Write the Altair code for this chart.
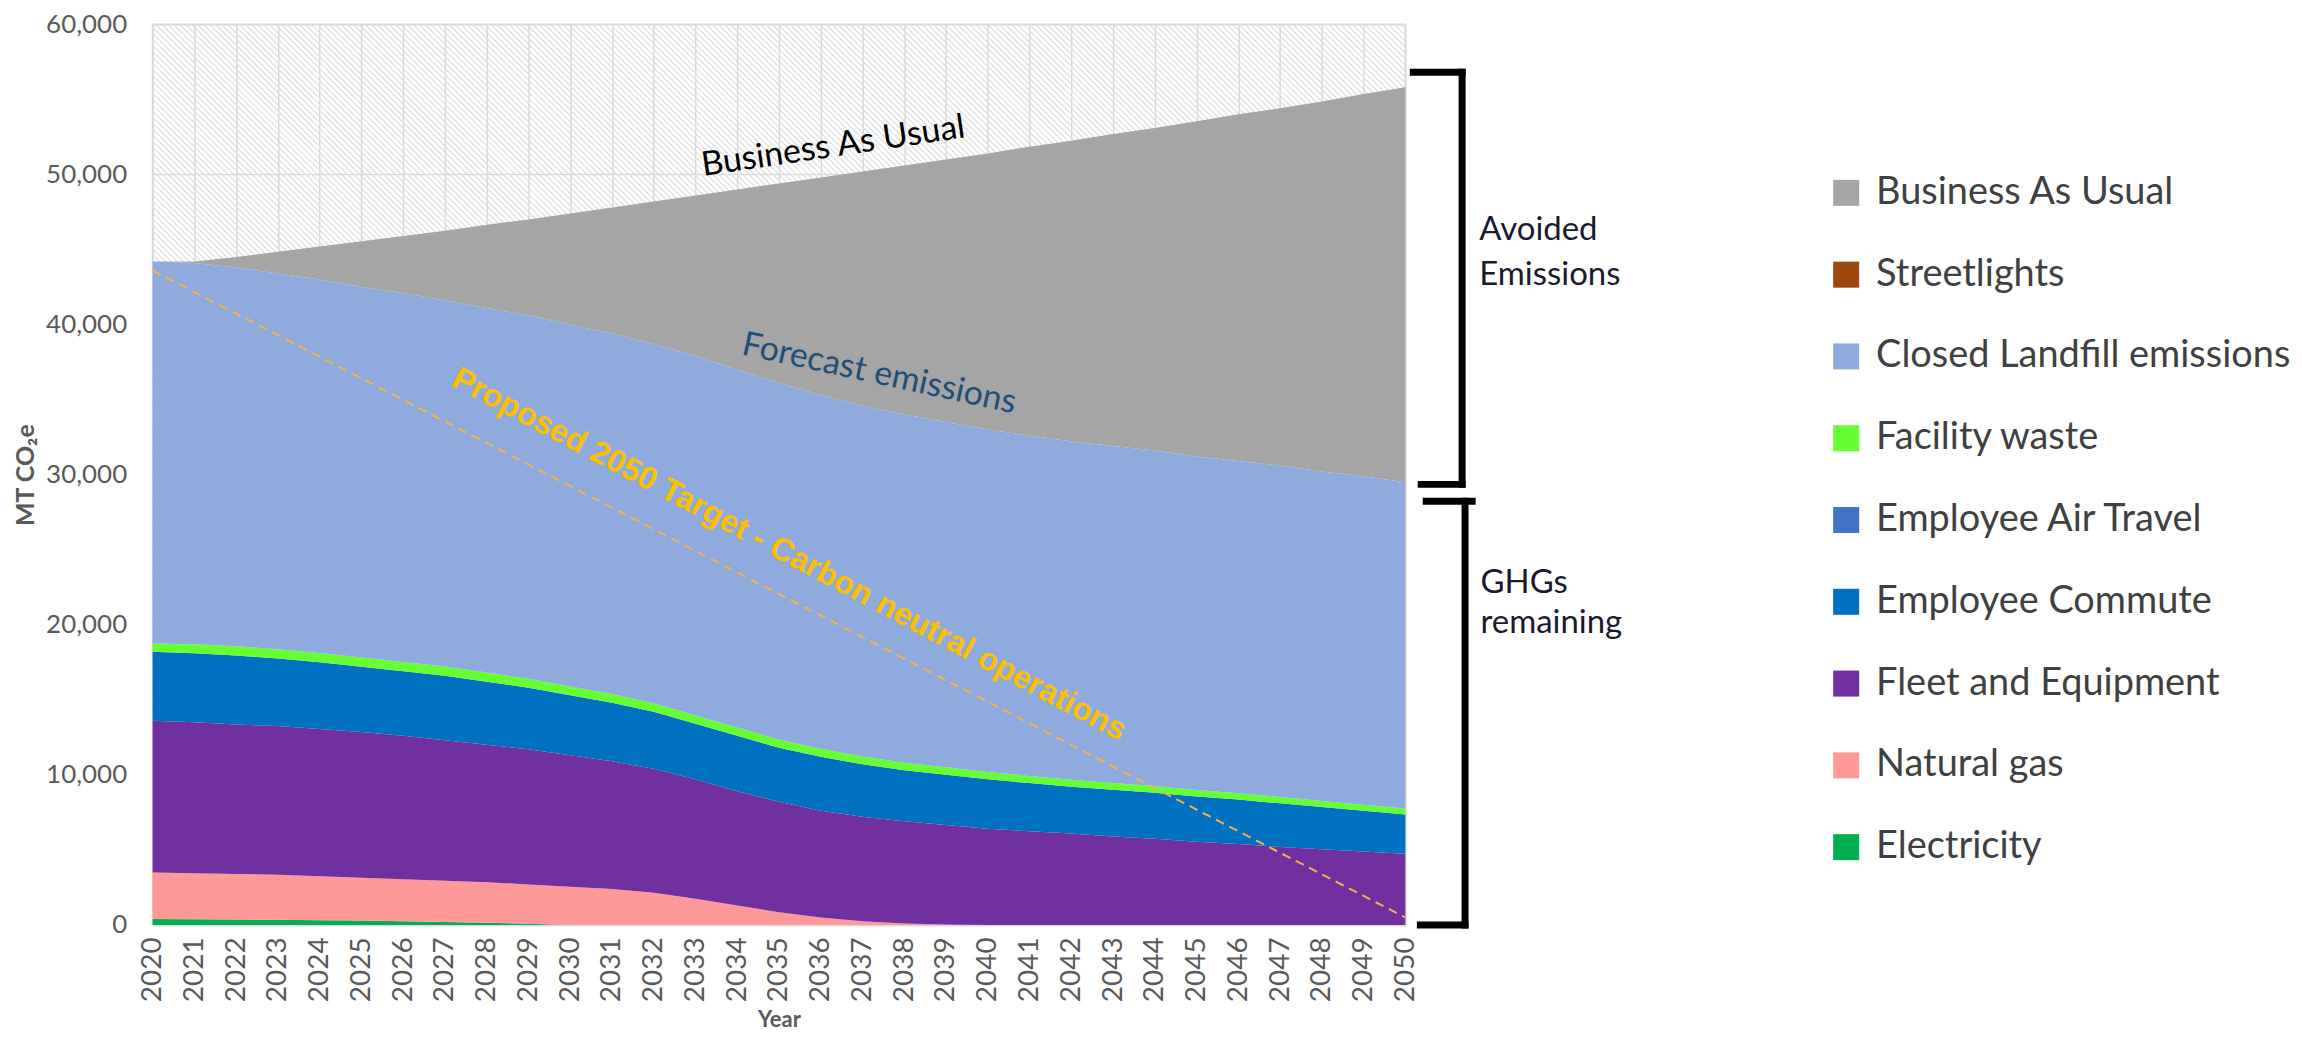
import altair as alt
import pandas as pd
import numpy as np

# ---------------- data (MT CO2e) ----------------
years = [2020, 2021, 2022, 2023, 2024, 2025, 2026, 2027, 2028, 2029, 2030,
         2031, 2032, 2033, 2034, 2035, 2036, 2037, 2038, 2039, 2040,
         2041, 2042, 2043, 2044, 2045, 2046, 2047, 2048, 2049, 2050]

electricity = [400, 380, 360, 340, 320, 290, 250, 200, 150, 80, 0,
               0, 0, 0, 0, 0, 0, 0, 0, 0, 0,
               0, 0, 0, 0, 0, 0, 0, 0, 0, 0]
natural_gas = [3100, 3070, 3040, 3010, 2930, 2860, 2800, 2750, 2700, 2620, 2550,
               2400, 2150, 1750, 1300, 850, 500, 250, 100, 30, 0,
               0, 0, 0, 0, 0, 0, 0, 0, 0, 0]
fleet = [10100, 10050, 9950, 9900, 9800, 9700, 9550, 9350, 9150, 9000, 8750,
         8500, 8250, 7950, 7600, 7350, 7100, 6950, 6800, 6620, 6400,
         6250, 6100, 5900, 5750, 5550, 5400, 5200, 5050, 4900, 4750]
commute = [4600, 4600, 4600, 4500, 4450, 4350, 4300, 4300, 4200, 4100, 4000,
           3900, 3800, 3700, 3700, 3600, 3600, 3500, 3400, 3350, 3300,
           3200, 3100, 3100, 3050, 3000, 2950, 2900, 2800, 2700, 2600]
air_travel = [0, 0, 0, 0, 0, 0, 0, 0, 0, 0, 0,
              0, 0, 0, 0, 0, 0, 0, 0, 0, 0,
              0, 0, 0, 0, 0, 0, 0, 0, 0, 0]
facility_waste = [550, 600, 620, 620, 620, 620, 620, 620, 610, 600, 590,
                  580, 570, 560, 550, 540, 530, 520, 510, 500, 490,
                  480, 470, 460, 450, 440, 430, 420, 410, 400, 400]
landfill = [25450, 25400, 25230, 25030, 24880, 24680, 24580, 24380, 24290, 24200, 24110,
            24020, 23930, 23940, 23850, 23760, 23570, 23380, 23190, 23000, 22810,
            22670, 22530, 22440, 22350, 22210, 22120, 22080, 21940, 21900, 21750]
streetlights = [0, 0, 0, 0, 0, 0, 0, 0, 0, 0, 0,
                0, 0, 0, 0, 0, 0, 0, 0, 0, 0,
                0, 0, 0, 0, 0, 0, 0, 0, 0, 0]
bau_total = [44200, 44200, 44500, 44850, 45200, 45550, 45900, 46250, 46650, 47000, 47400,
             47800, 48200, 48600, 49000, 49400, 49800, 50200, 50600, 51000, 51400,
             51850, 52250, 52700, 53100, 53550, 54000, 54400, 54850, 55350, 55800]

target_years = [2020, 2050]
target_values = [43600, 500]

stack_order = ["Electricity", "Natural gas", "Fleet and Equipment", "Employee Commute",
               "Employee Air Travel", "Facility waste", "Closed Landfill emissions",
               "Streetlights", "Business As Usual"]
legend_order = list(reversed(stack_order))
legend_colors = ["#a5a5a5", "#9e480e", "#8faadc", "#66ff33", "#4472c4",
                 "#0070c0", "#7030a0", "#ff9999", "#00b050"]

y_ticks = [0, 10000, 20000, 30000, 40000, 50000, 60000]

# ---------------- tables ----------------
series_vals = [electricity, natural_gas, fleet, commute, air_travel,
               facility_waste, landfill, streetlights]
forecast = np.sum(np.array(series_vals), axis=0)
bau_gap = np.array(bau_total) - forecast
series_vals.append(list(bau_gap))

rows = []
for i, (name, vals) in enumerate(zip(stack_order, series_vals)):
    for yr, v in zip(years, vals):
        rows.append({"year": yr, "value": float(v), "series": name, "order": i})
df = pd.DataFrame(rows)

W, H = 1256, 903

# hatch texture of the plot background (decorative diagonal lines)
px_per_year = W / 30
span = H / px_per_year
starts = np.arange(2020 - span, 2050, 6 / px_per_year)
hatch_df = pd.DataFrame({"year": starts, "year2": starts + span,
                         "value": 60000.0, "value2": 0.0})

target_df = pd.DataFrame({"year": target_years, "value": target_values})

bracket_df = pd.DataFrame({
    "year":   [2050.19, 2051.36, 2050.38, 2050.50, 2051.43, 2050.36],
    "year2":  [2051.36, 2051.36, 2051.36, 2051.60, 2051.43, 2051.43],
    "value":  [56800, 56800, 29350, 28220, 28220, 0],
    "value2": [56800, 29350, 29350, 28220, 0, 0],
})

# ---------------- scales / axes ----------------
xs = alt.Scale(domain=[2020, 2050], nice=False, zero=False)
ys = alt.Scale(domain=[0, 60000], nice=False)

x_axis = alt.Axis(values=years, format="d", labelAngle=-90, labelPadding=12,
                  titlePadding=8, labelFlush=False, labelOverlap=False,
                  grid=True, ticks=False, titleFontSize=22, labelFontSize=28)
y_axis = alt.Axis(values=y_ticks, format=",.0f", labelPadding=26, titlePadding=7,
                  labelFlush=False, grid=True, ticks=False, titleFontSize=25,
                  labelFontSize=26)

X = lambda f="year": alt.X(f"{f}:Q", scale=xs, axis=x_axis, title="Year")
Y = lambda f="value": alt.Y(f"{f}:Q", scale=ys, axis=y_axis, title="MT CO₂e")

hatch = alt.Chart(hatch_df).mark_rule(clip=True, color="#dedede", strokeWidth=1.2).encode(
    x=X(), x2="year2", y=Y(), y2="value2")

areas = alt.Chart(df).mark_area(interpolate="linear").encode(
    x=X(),
    y=alt.Y("value:Q", stack="zero", scale=ys, axis=y_axis, title="MT CO₂e"),
    color=alt.Color("series:N",
                    scale=alt.Scale(domain=legend_order, range=legend_colors),
                    legend=alt.Legend(orient="none", legendX=1679, legendY=150,
                                      title=None, symbolType="square", symbolSize=680,
                                      symbolStrokeWidth=0, symbolOpacity=1,
                                      labelFont="Lato", labelFontSize=38,
                                      labelColor="#404040", rowPadding=44,
                                      labelOffset=11, padding=0, labelLimit=700)),
    order=alt.Order("order:Q", sort="ascending"),
)

target = alt.Chart(target_df).mark_line(color="#f2b44a", strokeWidth=2,
                                        strokeDash=[9, 6]).encode(x=X(), y=Y())

brackets = alt.Chart(bracket_df).mark_rule(color="black", strokeWidth=7,
                                           strokeCap="square").encode(
    x=X(), x2="year2", y=Y(), y2="value2")


def label(text, yr, val, **kw):
    d = pd.DataFrame({"year": [yr], "value": [val], "text": [text]})
    return alt.Chart(d).mark_text(**kw).encode(x=X(), y=Y(), text="text:N")


bau_lbl = label("Business As Usual", 2036.3, 51850, angle=351.6, font="Lato",
                fontSize=34, color="#000000", align="center", baseline="middle")
fc_lbl = label("Forecast emissions", 2037.4, 36700, angle=12.2, font="Lato",
               fontSize=34, color="#1f4e79", align="center", baseline="middle")
tgt_lbl = label("Proposed 2050 Target - Carbon neutral operations", 2035.25, 24700,
                angle=28, font="Liberation Sans", fontWeight="bold", fontSize=32,
                color="#ffc000", align="center", baseline="middle")
avoid_lbl = label(["Avoided", "Emissions"], 2051.77, 46300, font="Lato", fontSize=33,
                  color="#1a1a2e", align="left", baseline="middle", lineHeight=45)
ghg_lbl = label(["GHGs", "remaining"], 2051.8, 22750, font="Lato", fontSize=33,
                color="#1a1a2e", align="left", baseline="middle", lineHeight=40)

chart = alt.layer(hatch, areas, target, brackets, bau_lbl, fc_lbl, tgt_lbl,
                  avoid_lbl, ghg_lbl).properties(
    width=W, height=H,
    autosize=alt.AutoSizeParams(type="none"),
    padding={"left": 145, "top": 15, "right": 891, "bottom": 110},
).configure_view(stroke="#d9d9d9", strokeWidth=1.5).configure_axis(
    labelFont="Lato", labelColor="#595959",
    titleFont="Lato", titleFontWeight="bold", titleColor="#595959",
    gridColor="#d9d9d9", gridWidth=1.5, domainColor="#d9d9d9", domainWidth=1.5,
)

chart.save("out.html", embed_options={"renderer": "svg", "actions": False})
